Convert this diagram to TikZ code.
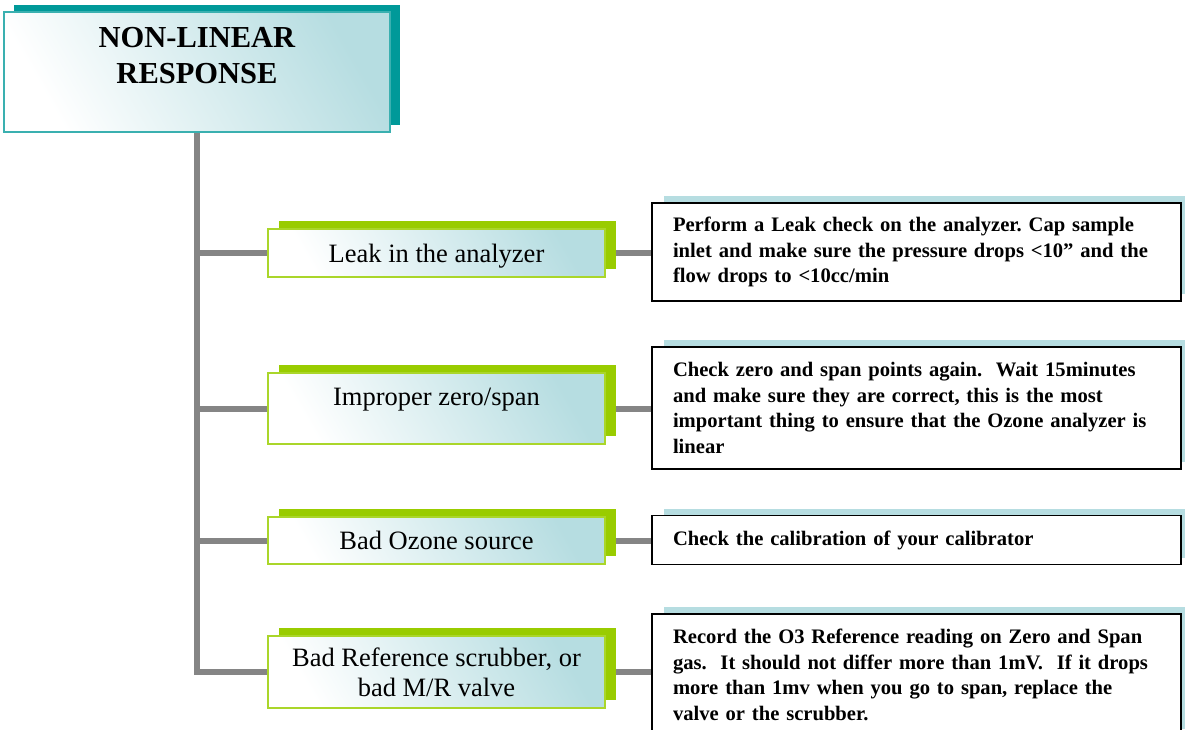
\documentclass[tikz,border=0pt]{standalone}
\usepackage{fontspec}
\setmainfont{Liberation Serif}
\usepackage{xcolor}
\usetikzlibrary{shadows,backgrounds}

\definecolor{tealdark}{HTML}{009999}
\definecolor{tealline}{HTML}{3AB0B0}
\definecolor{leafgreen}{HTML}{99CC00}
\definecolor{leafline}{HTML}{AAD62A}
\definecolor{frost}{HTML}{B6DDE1}
\definecolor{stemgray}{HTML}{858585}

\begin{document}
\begin{tikzpicture}[x=1pt,y=-1pt,
    headbox/.style={draw=tealline,line width=1.5pt,left color=white,right color=frost,shading angle=120,
        general shadow={fill=tealdark,shadow xshift=10pt,shadow yshift=7pt},
        minimum width=386pt,minimum height=120pt,inner sep=0pt,align=center,
        font=\fontsize{30.5}{36}\selectfont\bfseries},
    causebox/.style={draw=leafline,line width=1.5pt,left color=white,right color=frost,shading angle=120,
        general shadow={fill=leafgreen,shadow xshift=11pt,shadow yshift=8pt},
        minimum width=337pt,inner sep=0pt,align=center,
        font=\fontsize{26.5}{30}\selectfont},
    fixbox/.style={draw=black,line width=1.5pt,fill=white,
        general shadow={fill=frost,shadow xshift=12pt,shadow yshift=7pt},
        inner xsep=21pt,inner ysep=0pt,text width=487pt,align=left,
        font=\fontsize{20.6}{25.5}\selectfont\bfseries\frenchspacing},
    stem/.style={draw=stemgray,line width=6pt}]
    \useasboundingbox (0,0) rectangle (1185,729);
    \node[headbox,text depth=33pt] (title) at (197,72) {NON-LINEAR\\RESPONSE};
    \node[causebox,minimum height=48pt,text depth=0pt] (leak) at (436.5,253) {Leak in the analyzer};
    \node[causebox,minimum height=71pt,text depth=23pt] (zero) at (436.5,408.5) {Improper zero/span};
    \node[causebox,minimum height=47pt] (ozone) at (436.5,540.5) {Bad Ozone source};
    \node[causebox,minimum height=72pt,text depth=0pt] (scrub) at (436.5,672) {Bad Reference scrubber, or\\bad M/R valve};
    \node[fixbox,minimum height=98pt] (leakfix) at (916.5,252) {Perform a Leak check on the analyzer. Cap sample\\inlet and make sure the pressure drops <10” and the\\flow drops to <10cc/min};
    \node[fixbox,minimum height=122pt] (zerofix) at (916.5,408) {Check zero and span points again.\ \ Wait 15minutes\\and make sure they are correct, this is the most\\important thing to ensure that the Ozone analyzer is\\linear};
    \node[fixbox,minimum height=49pt] (ozonefix) at (916.5,540) {Check the calibration of your calibrator};
    \node[fixbox,minimum height=122pt] (scrubfix) at (916.5,675) {Record the O3 Reference reading on Zero and Span\\gas.\ \ It should not differ more than 1mV.\ \ If it drops\\more than 1mv when you go to span, replace the\\valve or the scrubber.};
    \begin{scope}[on background layer]
        \draw[stem] (title.south) |- (scrub.west);
        \draw[stem] (title.south |- leak.west) -- (leak.west);
        \draw[stem] (title.south |- zero.west) -- (zero.west);
        \draw[stem] (title.south |- ozone.west) -- (ozone.west);
        \draw[stem] (leak.east) -- (leak.east -| leakfix.west);
        \draw[stem] (zero.east) -- (zero.east -| zerofix.west);
        \draw[stem] (ozone.east) -- (ozone.east -| ozonefix.west);
        \draw[stem] (scrub.east) -- (scrub.east -| scrubfix.west);
    \end{scope}
\end{tikzpicture}
\end{document}
